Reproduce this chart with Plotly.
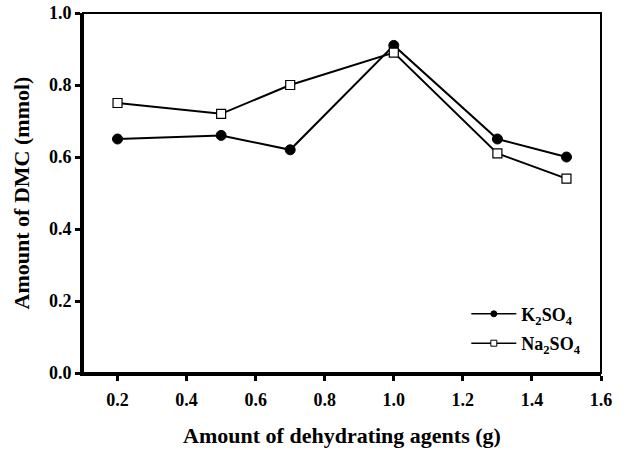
import plotly.graph_objects as go

x_vals = [0.2, 0.5, 0.7, 1.0, 1.3, 1.5]
k2so4 = [0.65, 0.66, 0.62, 0.91, 0.65, 0.60]
na2so4 = [0.75, 0.72, 0.80, 0.89, 0.61, 0.54]
x_ticks = [0.2, 0.4, 0.6, 0.8, 1.0, 1.2, 1.4, 1.6]
y_ticks = [0.0, 0.2, 0.4, 0.6, 0.8, 1.0]
series_names = ["K<sub>2</sub>SO<sub>4</sub>", "Na<sub>2</sub>SO<sub>4</sub>"]

FONT = "Liberation Serif, Times New Roman, serif"

fig = go.Figure()
# data traces
fig.add_trace(go.Scatter(
    x=x_vals, y=k2so4, mode="lines+markers", name=series_names[0], showlegend=False,
    line=dict(color="black", width=2),
    marker=dict(symbol="circle", size=10, color="black", line=dict(color="black", width=1)),
))
fig.add_trace(go.Scatter(
    x=x_vals, y=na2so4, mode="lines+markers", name=series_names[1], showlegend=False,
    line=dict(color="black", width=2),
    marker=dict(symbol="square", size=9, color="white", line=dict(color="black", width=1.2)),
))
# legend entries (smaller legend glyphs as in the reference)
fig.add_trace(go.Scatter(
    x=[None], y=[None], mode="lines+markers", name=series_names[0], legendgroup="a",
    line=dict(color="black", width=1.5),
    marker=dict(symbol="circle", size=6, color="black", line=dict(color="black", width=1)),
))
fig.add_trace(go.Scatter(
    x=[None], y=[None], mode="lines+markers", name=series_names[1], legendgroup="b",
    line=dict(color="black", width=1.5),
    marker=dict(symbol="square", size=6, color="white", line=dict(color="black", width=1)),
))

fig.update_layout(
    width=628, height=450,
    margin=dict(l=83, r=27, t=13, b=77, autoexpand=False),
    paper_bgcolor="white", plot_bgcolor="white",
    font=dict(family=FONT, color="black", size=18, weight="bold"),
    showlegend=True,
    legend=dict(x=0.74, y=0.215, xanchor="left", yanchor="top",
                bgcolor="rgba(0,0,0,0)", font=dict(size=18, family=FONT, weight="bold"),
                traceorder="grouped", tracegroupgap=3, itemwidth=45),
    xaxis=dict(
        range=[0.1, 1.6], tickvals=x_ticks, ticktext=[f"{v:.1f}" for v in x_ticks],
        showgrid=False, zeroline=False, showline=True, linewidth=3, linecolor="black",
        ticks="outside", ticklen=5, tickwidth=3, tickcolor="black",
        ticklabelstandoff=3,
        tickfont=dict(size=18, family=FONT, weight="bold"),
        title=dict(text="Amount of dehydrating agents (g)", standoff=20,
                   font=dict(size=22, family=FONT, weight="bold")),
    ),
    yaxis=dict(
        range=[0, 1.0], tickvals=y_ticks, ticktext=[f"{v:.1f}" for v in y_ticks],
        showgrid=False, zeroline=False, showline=True, linewidth=3, linecolor="black",
        ticks="outside", ticklen=5, tickwidth=3, tickcolor="black",
        tickfont=dict(size=18, family=FONT, weight="bold"),
        title=dict(text="Amount of DMC (mmol)", standoff=14,
                   font=dict(size=22, family=FONT, weight="bold")),
    ),
    shapes=[dict(type="rect", xref="paper", yref="paper", x0=0, y0=0, x1=1, y1=1,
                 line=dict(color="black", width=2), layer="above")],
)

fig.write_html("out.html", config={"displayModeBar": False},
               post_script="document.body.style.margin='0px';")
